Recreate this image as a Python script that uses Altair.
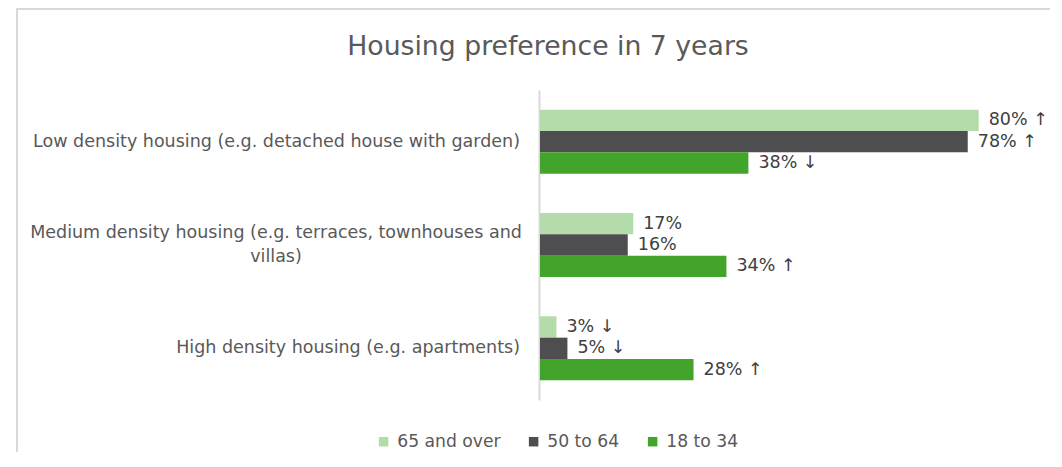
import altair as alt
import pandas as pd

# ---- data ----
categories = [
    "Low density housing (e.g. detached house with garden)",
    "Medium density housing (e.g. terraces, townhouses and\nvillas)",
    "High density housing (e.g. apartments)",
]
series = ["65 and over", "50 to 64", "18 to 34"]
values_65_over = [80, 17, 3]
values_50_64 = [78, 16, 5]
values_18_34 = [38, 34, 28]
trend_65_over = ["↑", "", "↓"]
trend_50_64 = ["↑", "", "↓"]
trend_18_34 = ["↓", "↑", "↑"]
colors = ["#b4dcaa", "#4e4e50", "#43a42c"]
title_text = "Housing preference in 7 years"

rows = []
for s, vals, trs in zip(series,
                        [values_65_over, values_50_64, values_18_34],
                        [trend_65_over, trend_50_64, trend_18_34]):
    for c, v, t in zip(categories, vals, trs):
        rows.append({"cat": c, "series": s, "value": v,
                     "label": f"{v}%" + (f" {t}" if t else "")})
df = pd.DataFrame(rows)
df_cat = pd.DataFrame({"cat": categories,
                       "multi": ["\n" in c for c in categories]})

W, H = 510, 310
PAD = {"left": 532, "top": 82, "right": 0, "bottom": 52}
FONT = "DejaVu Sans"
FS = 17.5

y_enc = alt.Y("cat:N", sort=categories,
              scale=alt.Scale(paddingInner=0.38, paddingOuter=0.19),
              axis=alt.Axis(title=None, labels=False, ticks=False, grid=False,
                            domainColor="#d9d9d9", domainWidth=2, offset=1))
x_enc = alt.X("value:Q", scale=alt.Scale(domain=[0, 93], nice=False, zero=True),
              axis=None)
yoff = alt.YOffset("series:N", sort=series,
                   scale=alt.Scale(paddingInner=0, paddingOuter=0))

bars = alt.Chart(df).mark_bar().encode(
    y=y_enc, x=x_enc, yOffset=yoff,
    color=alt.Color("series:N", sort=series,
                    scale=alt.Scale(domain=series, range=colors),
                    legend=alt.Legend(title=None, orient="none", legendX=-165,
                                      legendY=343, direction="horizontal",
                                      symbolType="square", symbolSize=90,
                                      symbolStrokeWidth=0, symbolOpacity=1,
                                      labelFontSize=17.2, labelColor="#595959",
                                      labelFont=FONT, columnPadding=24,
                                      labelOffset=5, padding=0)),
)

values_text = alt.Chart(df).mark_text(
    align="left", baseline="middle", dx=10, fontSize=FS, font=FONT,
    color="#404040").encode(y=y_enc, x=x_enc, yOffset=yoff, text="label:N")

cat_single = alt.Chart(df_cat).transform_filter("!datum.multi").mark_text(
    align="right", baseline="middle", fontSize=FS, font=FONT,
    color="#595959").encode(y=y_enc, x=alt.value(-20), text="cat:N")

cat_multi = alt.Chart(df_cat).transform_filter("datum.multi").mark_text(
    align="center", baseline="middle", fontSize=FS, font=FONT, dy=-12,
    lineBreak="\n", lineHeight=24, color="#595959").encode(
    y=y_enc, x=alt.value(-264), text="cat:N")

title = alt.Chart(pd.DataFrame({"t": [title_text]})).mark_text(
    align="center", baseline="alphabetic", fontSize=26.7, font=FONT,
    color="#595959").encode(x=alt.value(8), y=alt.value(-35), text="t:N")

one = pd.DataFrame({"a": [0]})
border_left = alt.Chart(one).mark_rule(color="#d9d9d9", strokeWidth=2).encode(
    x=alt.value(-523), y=alt.value(-81), y2=alt.value(H + PAD["bottom"]))
border_top = alt.Chart(one).mark_rule(color="#d9d9d9", strokeWidth=2).encode(
    x=alt.value(-524), x2=alt.value(W), y=alt.value(-81))

chart = alt.layer(
    border_left, border_top, bars, values_text, cat_single, cat_multi, title
).properties(
    width=W, height=H, padding=PAD,
    autosize=alt.AutoSizeParams(type="none"),
).configure(font=FONT).configure_view(stroke=None)

chart.save("out.html", embed_options={"renderer": "svg", "actions": False})
